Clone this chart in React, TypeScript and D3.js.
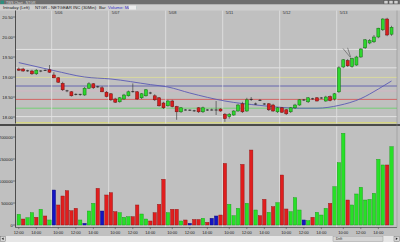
import React from "react";
import * as d3 from "d3";

// ---------- data ----------
const priceTicks = [20.5, 20.0, 19.5, 19.0, 18.5, 18.0];
const volumeTicks = [0, 50000, 100000, 150000, 200000];
const dayLabels = ["5/06", "5/07", "5/08", "5/11", "5/12", "5/13"];
const dayStarts = [8, 21, 34, 47, 60, 73];
const sessionTimes = ["09:30", "10:00", "10:30", "11:00", "11:30", "12:00", "12:30", "13:00", "13:30", "14:00", "14:30", "15:00", "15:30"];
const timeTickLabels = ["10:00", "12:00", "14:00"];

const opens = [
  19.20, 19.20, 19.16, 19.15, 19.08, 19.15, 19.17, 19.18,
  19.05, 18.98, 18.84, 18.66, 18.63, 18.57, 18.56, 18.55, 18.72, 18.83, 18.76, 18.73, 18.62,
  18.58, 18.45, 18.38, 18.45, 18.53, 18.64, 18.63, 18.48, 18.53, 18.60, 18.53, 18.48, 18.35,
  18.28, 18.40, 18.26, 18.13, 18.18, 18.17, 18.16, 18.23, 18.13, 18.17, 18.18, 18.17, 18.20,
  18.07, 18.01, 18.05, 18.15, 18.33, 18.15, 18.45, 18.32, 18.42, 18.33, 18.33, 18.30, 18.13,
  18.23, 18.18, 18.13, 18.23, 18.30, 18.42, 18.38, 18.45, 18.48, 18.47, 18.40, 18.51, 18.45,
  18.63, 19.25, 19.41, 19.26, 19.30, 19.50, 19.73, 19.85, 19.88, 20.00, 20.18, 20.45, 20.07,
];
const highs = [
  19.24, 19.23, 19.18, 19.18, 19.20, 19.17, 19.19, 19.30,
  19.12, 19.00, 18.88, 18.68, 18.65, 18.59, 18.58, 18.75, 18.87, 18.85, 18.78, 18.77, 18.65,
  18.60, 18.48, 18.50, 18.58, 18.66, 18.84, 18.65, 18.60, 18.70, 18.63, 18.57, 18.50, 18.38,
  18.43, 18.43, 18.28, 18.25, 18.20, 18.19, 18.18, 18.25, 18.26, 18.20, 18.21, 18.40, 18.22,
  18.10, 18.10, 18.17, 18.33, 18.38, 18.48, 18.50, 18.36, 18.45, 18.35, 18.35, 18.33, 18.25,
  18.25, 18.20, 18.25, 18.33, 18.45, 18.45, 18.50, 18.48, 18.50, 18.50, 18.53, 18.54, 18.60,
  19.27, 19.45, 19.45, 19.48, 19.53, 19.72, 19.95, 19.95, 20.05, 20.23, 20.47, 20.48, 20.28,
];
const lows = [
  19.15, 19.13, 19.13, 19.05, 19.05, 19.12, 19.15, 19.10,
  18.97, 18.85, 18.65, 18.62, 18.51, 18.54, 18.53, 18.53, 18.70, 18.70, 18.73, 18.62, 18.49,
  18.40, 18.35, 18.36, 18.43, 18.51, 18.61, 18.43, 18.45, 18.51, 18.57, 18.40, 18.26, 18.20,
  18.26, 18.24, 17.93, 18.10, 18.16, 18.15, 18.13, 18.10, 18.10, 18.15, 18.16, 18.05, 18.13,
  17.88, 17.96, 18.03, 18.13, 18.10, 18.13, 18.40, 18.30, 18.40, 18.30, 18.15, 18.13, 18.10,
  18.10, 18.05, 18.10, 18.20, 18.28, 18.40, 18.35, 18.43, 18.39, 18.45, 18.38, 18.39, 18.41,
  18.60, 19.22, 19.25, 19.23, 19.28, 19.48, 19.70, 19.82, 19.85, 19.97, 20.15, 20.02, 20.03,
];
const closes = [
  19.17, 19.15, 19.15, 19.08, 19.17, 19.15, 19.16, 19.12,
  18.98, 18.87, 18.68, 18.65, 18.53, 18.56, 18.57, 18.72, 18.83, 18.73, 18.75, 18.63, 18.51,
  18.43, 18.37, 18.48, 18.55, 18.63, 18.63, 18.45, 18.58, 18.68, 18.60, 18.43, 18.28, 18.23,
  18.40, 18.26, 18.13, 18.23, 18.17, 18.17, 18.15, 18.13, 18.23, 18.18, 18.17, 18.18, 18.15,
  17.96, 18.07, 18.15, 18.30, 18.13, 18.43, 18.43, 18.33, 18.41, 18.32, 18.18, 18.15, 18.23,
  18.12, 18.08, 18.23, 18.30, 18.43, 18.43, 18.48, 18.46, 18.40, 18.48, 18.50, 18.41, 18.58,
  19.23, 19.43, 19.28, 19.46, 19.50, 19.70, 19.93, 19.91, 20.00, 20.22, 20.45, 20.05, 20.24,
];
const volumes = [
  24300, 13600, 16600, 28000, 17500, 35700, 20500, 11400,
  79500, 45500, 65900, 78000, 32500, 37900, 11400, 3800, 31800, 49200, 83300, 31800, 68200,
  73500, 30300, 28000, 17500, 18900, 18900, 45500, 25000, 13600, 9100, 28000, 47000, 103900,
  28000, 35700, 35700, 9100, 11400, 3800, 12500, 12500, 15200, 6100, 15200, 20500, 22700,
  140000, 47000, 21200, 37900, 137800, 49200, 170400, 34100, 21200, 58300, 28800, 41700, 50800,
  113600, 36400, 30300, 62100, 34100, 11400, 9800, 17500, 28800, 22700, 37900, 49200, 87100,
  141600, 208400, 56800, 45500, 70500, 85700, 56800, 58300, 72000, 149200, 136400, 136400, 178000,
];
const volumeDirs = (
  "grggrgrg" +
  "brrrrrgbggrbr" +
  "rrgggrrggrrrr" +
  "grrgrbrrgrbbr" +
  "rgggrgrgrrgrg" +
  "rrgggbgrgggrg" +
  "ggrggggggggrg"
).split("");

// moving average line, read at a few bars
const maIdx = [0, 8, 15, 21, 30, 34, 39, 47, 55, 64, 68, 73, 78, 82, 85];
const maVal = [19.36, 19.16, 19.0, 18.95, 18.81, 18.75, 18.6, 18.4, 18.29, 18.22, 18.22, 18.29, 18.46, 18.7, 18.9];

// horizontal level lines
const levelPrices = [19.69, 19.23, 18.99, 18.775, 18.65, 18.44, 18.22, 18.01, 17.855];
const levelColors = ["#e6e6e6", "#e6e6e6", "#dada9a", "#5c5cae", "#d6b4c4", "#d25a5a", "#6cd06c", "#e6e6e6", "#e2e25e"];

// ---------- component ----------
export default function App() {
  const W = 400, H = 242;
  const plotL = 15.5, plotR = 397;
  const priceTop = 10.5, priceBot = 123.5;
  const volTop = 126.5, volBot = 227.5;
  const n = closes.length;
  const step = 4.385;
  const x0 = 16.6;

  const x = d3.scaleBand<number>().domain(d3.range(n)).range([x0, x0 + n * step]).paddingInner(0);
  const cx = (i: number) => (x(i) as number) + x.bandwidth() / 2;
  const yP = d3.scaleLinear().domain([18.0, 20.5]).range([117, 17]);
  const yV = d3.scaleLinear().domain([0, 200000]).range([225, 137]);

  const barTime = (i: number) => (i < 8 ? sessionTimes[i + 5] : sessionTimes[(i - 8) % 13]);

  const maLine = d3
    .line<number>()
    .x((d, k) => cx(maIdx[k]))
    .y((d) => yP(d))
    .curve(d3.curveMonotoneX);

  const font = "Liberation Sans, Arial, sans-serif";
  const bodyW = 3;
  const volW = 3.4;

  const volFill: Record<string, string> = { g: "#27e027", r: "#e01e1e", b: "#1414c4" };
  const volStroke: Record<string, string> = { g: "#129a12", r: "#8a1010", b: "#0a0a70" };

  return (
    <svg
      width={W}
      height={H}
      style={{ position: "absolute", left: 0, top: 0, display: "block" }}
      fontFamily={font}
    >
      <rect x={0} y={0} width={W} height={H} fill="#c0c0c0" />

      {/* title bar */}
      <rect x={0} y={0} width={W} height={4.5} fill="#6f6f6f" />
      <rect x={0.5} y={0.5} width={3.5} height={3.5} fill="#2e8f7e" />
      <text x={6} y={3.6} fontSize={3.4} fill="#dcdcdc">TWS Chart - NTGR</text>
      {[384, 389, 394].map((bx) => (
        <rect key={bx} x={bx} y={0.6} width={4} height={3.3} fill="#d0d0d0" stroke="#404040" strokeWidth={0.4} />
      ))}

      {/* header row */}
      <rect x={0} y={4.5} width={W} height={6} fill="#cfcfcf" />
      <text x={3} y={9.2} fontSize={4.3} fill="#202020">Intraday (Left)</text>
      <text x={35} y={9.2} fontSize={4.3} fill="#202020">NTGR - NETGEAR INC (30Min)</text>
      <text x={99} y={9.2} fontSize={4.3} fill="#202020">Bar</text>
      <text x={108} y={9.2} fontSize={4.3} fill="#3030c8">Volume: MA50</text>
      <rect x={129} y={5.6} width={7} height={4} fill="#ececec" />

      {/* price panel level lines */}
      {levelPrices.map((p, k) => (
        <line key={"lv" + k} x1={plotL} x2={plotR} y1={yP(p)} y2={yP(p)} stroke={levelColors[k]} strokeWidth={0.9} />
      ))}

      {/* day separators */}
      {dayStarts.map((d, k) => {
        const lx = x(d) as number;
        return (
          <g key={"day" + k}>
            <line x1={lx} x2={lx} y1={priceTop} y2={priceBot} stroke="#e2e2e2" strokeWidth={0.8} />
            <line x1={lx} x2={lx} y1={volTop} y2={volBot} stroke="#e2e2e2" strokeWidth={0.8} />
            <text x={lx + 3} y={13.8} fontSize={4} fill="#303030">{dayLabels[k]}</text>
          </g>
        );
      })}

      {/* moving average */}
      <path d={maLine(maVal) || ""} fill="none" stroke="#5a5ab4" strokeWidth={0.9} />

      {/* candles */}
      {closes.map((c, i) => {
        const o = opens[i];
        const xc = cx(i);
        const doji = Math.abs(c - o) < 0.02;
        const up = c > o;
        const top = yP(Math.max(o, c));
        const bot = yP(Math.min(o, c));
        return (
          <g key={"c" + i}>
            <line x1={xc} x2={xc} y1={yP(highs[i])} y2={yP(lows[i])} stroke="#303030" strokeWidth={0.6} />
            {doji ? (
              <line x1={xc - bodyW / 2} x2={xc + bodyW / 2} y1={(top + bot) / 2} y2={(top + bot) / 2} stroke="#202020" strokeWidth={0.8} />
            ) : (
              <rect
                x={xc - bodyW / 2}
                y={top}
                width={bodyW}
                height={Math.max(bot - top, 0.8)}
                fill={up ? "#2ed62e" : "#d81e1e"}
                stroke={up ? "#107010" : "#701010"}
                strokeWidth={0.5}
              />
            )}
          </g>
        );
      })}

      {/* annotation arrow */}
      <path d="M343,48.5 L350.5,57.5 M347.6,47.8 L350.6,57" fill="none" stroke="#505050" strokeWidth={0.6} />

      {/* panel separator */}
      <rect x={0} y={124} width={W} height={2} fill="#4a4a4a" />

      {/* volume bars */}
      {volumes.map((v, i) => (
        <rect
          key={"v" + i}
          x={cx(i) - volW / 2}
          y={yV(v)}
          width={volW}
          height={yV(0) - yV(v)}
          fill={volFill[volumeDirs[i]]}
          stroke={volStroke[volumeDirs[i]]}
          strokeWidth={0.4}
        />
      ))}

      {/* axes */}
      <line x1={plotL} x2={plotL} y1={priceTop} y2={priceBot} stroke="#303030" strokeWidth={0.8} />
      <line x1={plotL} x2={plotL} y1={volTop} y2={volBot} stroke="#303030" strokeWidth={0.8} />
      <line x1={plotL} x2={plotR} y1={volBot} y2={volBot} stroke="#303030" strokeWidth={0.6} />
      <line x1={plotR} x2={plotR} y1={priceTop} y2={volBot} stroke="#8a8a8a" strokeWidth={0.5} />

      {priceTicks.map((p) => (
        <g key={"pt" + p}>
          <line x1={13} x2={plotL} y1={yP(p)} y2={yP(p)} stroke="#303030" strokeWidth={0.5} />
          <text x={12.8} y={yP(p) + 1.5} fontSize={4.2} textAnchor="end" fill="#202020">{p.toFixed(2)}</text>
        </g>
      ))}
      {volumeTicks.map((v) => (
        <g key={"vt" + v}>
          <line x1={13} x2={plotL} y1={yV(v)} y2={yV(v)} stroke="#303030" strokeWidth={0.5} />
          <text x={12.8} y={yV(v) + 1.5} fontSize={4.2} textAnchor="end" fill="#202020">{String(v)}</text>
        </g>
      ))}

      {/* time axis labels */}
      {closes.map((c, i) =>
        timeTickLabels.includes(barTime(i)) ? (
          <g key={"tt" + i}>
            <line x1={cx(i)} x2={cx(i)} y1={volBot} y2={volBot + 1.6} stroke="#303030" strokeWidth={0.5} />
            <text x={cx(i)} y={233.8} fontSize={4} textAnchor="middle" fill="#202020">{barTime(i)}</text>
          </g>
        ) : null
      )}

      {/* scrollbar */}
      <rect x={0} y={236} width={W} height={6} fill="#e6e6e6" />
      <rect x={0.3} y={236.3} width={5} height={5} fill="#d6d6d6" stroke="#606060" strokeWidth={0.4} />
      <path d="M3.6,237.6 L1.6,238.8 L3.6,240 Z" fill="#202020" />
      <rect x={333} y={236.6} width={50} height={4.6} fill="#d4d4d4" stroke="#8a8a8a" strokeWidth={0.4} />
      <text x={336} y={240.2} fontSize={3.4} fill="#303030">Drift</text>
      <rect x={394} y={236.3} width={5.5} height={5} fill="#d6d6d6" stroke="#606060" strokeWidth={0.4} />
      <path d="M395.8,237.6 L397.8,238.8 L395.8,240 Z" fill="#202020" />
    </svg>
  );
}
